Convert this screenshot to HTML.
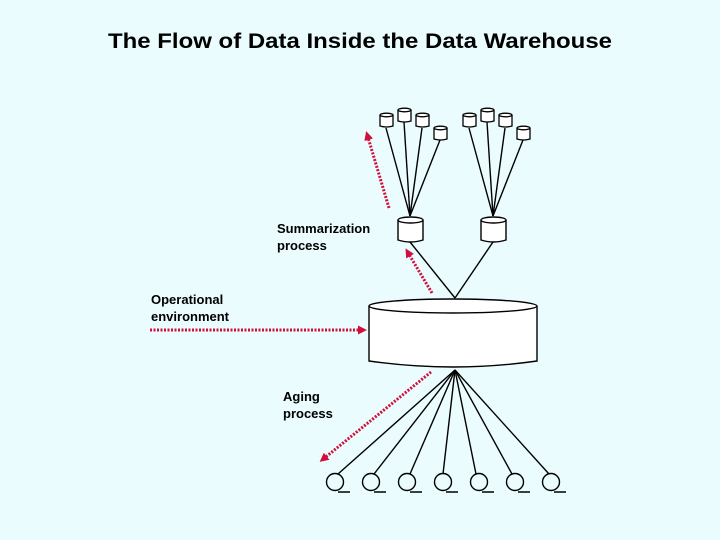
<!DOCTYPE html>
<html><head><meta charset="utf-8"><style>
html,body{margin:0;padding:0;background:#eafcfd;}
svg{display:block}
text{font-family:"Liberation Sans",Arial,sans-serif;fill:#000}
.l{font-size:13px;font-weight:bold}
</style></head><body>
<svg width="720" height="540" viewBox="0 0 720 540">
<defs>
<marker id="ah" markerWidth="9" markerHeight="9" refX="6" refY="4.5" orient="auto" markerUnits="userSpaceOnUse">
<path d="M0,0 L9,4.5 L0,9 z" fill="#d0103a"/></marker>
<g id="can"><path d="M0,2 L0,13 Q6.5,15 13,13 L13,2" fill="#fff" stroke="#000" stroke-width="1.3"/><ellipse cx="6.5" cy="2" rx="6.5" ry="1.8" fill="#fff" stroke="#000" stroke-width="1.3"/></g>
</defs>
<rect width="720" height="540" fill="#eafcfd"/>
<text x="360" y="48" text-anchor="middle" font-size="21" font-weight="bold" textLength="504" lengthAdjust="spacingAndGlyphs">The Flow of Data Inside the Data Warehouse</text>
<g stroke="#000" stroke-width="1.4" fill="none">
<line x1="386" y1="128" x2="410" y2="216"/><line x1="404" y1="122" x2="410" y2="216"/><line x1="422" y1="128" x2="410" y2="216"/><line x1="440" y1="140" x2="410" y2="216"/>
<line x1="469" y1="128" x2="493" y2="216"/><line x1="487" y1="122" x2="493" y2="216"/><line x1="505" y1="128" x2="493" y2="216"/><line x1="523" y1="140" x2="493" y2="216"/>
<line x1="410" y1="242" x2="455" y2="298"/><line x1="493" y1="242" x2="455" y2="298"/>
<line x1="455" y1="370" x2="338" y2="474"/><line x1="455" y1="370" x2="374" y2="474"/><line x1="455" y1="370" x2="410" y2="474"/><line x1="455" y1="370" x2="443" y2="474"/><line x1="455" y1="370" x2="476" y2="474"/><line x1="455" y1="370" x2="512" y2="474"/><line x1="455" y1="370" x2="549" y2="474"/>
</g>
<use href="#can" x="380" y="113"/><use href="#can" x="398" y="108"/><use href="#can" x="416" y="113"/><use href="#can" x="434" y="126"/>
<use href="#can" x="463" y="113"/><use href="#can" x="481" y="108"/><use href="#can" x="499" y="113"/><use href="#can" x="517" y="126"/>
<g stroke="#000" stroke-width="1.4" fill="#fff">
<path d="M398,220 L398,240 Q410.5,244 423,240 L423,220"/><ellipse cx="410.5" cy="220" rx="12.5" ry="3"/>
<path d="M481,220 L481,240 Q493.5,244 506,240 L506,220"/><ellipse cx="493.5" cy="220" rx="12.5" ry="3"/>
<path d="M369,306 L369,361 Q453,373 537,361 L537,306"/><ellipse cx="453" cy="306" rx="84" ry="7"/>
</g>
<g stroke="#000" stroke-width="1.4" fill="none">
<circle cx="335" cy="482" r="8.5"/><circle cx="371" cy="482" r="8.5"/><circle cx="407" cy="482" r="8.5"/><circle cx="443" cy="482" r="8.5"/><circle cx="479" cy="482" r="8.5"/><circle cx="515" cy="482" r="8.5"/><circle cx="551" cy="482" r="8.5"/>
<path d="M338,492h12M374,492h12M410,492h12M446,492h12M482,492h12M518,492h12M554,492h12"/>
</g>
<g stroke="#d0103a" stroke-width="3" stroke-dasharray="2,1.5" fill="none" marker-end="url(#ah)">
<line x1="389" y1="208" x2="367" y2="134"/>
<line x1="432" y1="293" x2="407" y2="251"/>
<line x1="150" y1="330" x2="364" y2="330"/>
<line x1="431" y1="372" x2="322" y2="460"/>
</g>
<text class="l" x="277" y="233">Summarization</text><text class="l" x="277" y="250">process</text>
<text class="l" x="151" y="304">Operational</text><text class="l" x="151" y="321">environment</text>
<text class="l" x="283" y="401">Aging</text><text class="l" x="283" y="418">process</text>
</svg>
</body></html>
